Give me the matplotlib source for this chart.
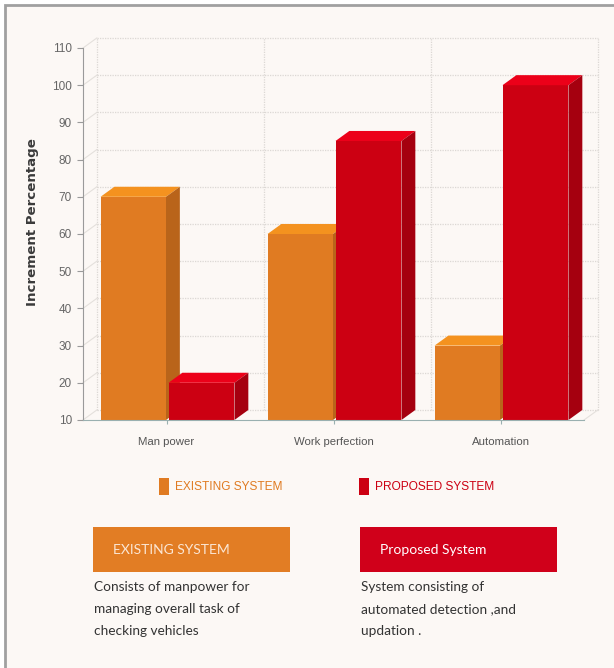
import matplotlib
matplotlib.use("Agg")
import matplotlib.pyplot as plt
from matplotlib.patches import Polygon, Rectangle
from matplotlib import font_manager

# ---- data ----
categories = ["Man power", "Work perfection", "Automation"]
existing = [70, 60, 30]
proposed = [20, 85, 100]
series_names = ["EXISTING SYSTEM", "PROPOSED SYSTEM"]
yticks = list(range(10, 111, 10))
box_titles = ["EXISTING SYSTEM", "Proposed System"]
box_texts = ["Consists of manpower for\nmanaging overall task of\nchecking vehicles",
             "System consisting of\nautomated detection ,and\nupdation ."]

names = {f.name for f in font_manager.fontManager.ttflist}
NARROW = "Liberation Sans Narrow" if "Liberation Sans Narrow" in names else "Liberation Sans"
BODY = "Lato" if "Lato" in names else "Liberation Sans"

W, H = 614, 668
fig = plt.figure(figsize=(W / 100, H / 100), dpi=100, facecolor="white")

def fx(px):
    return px / W

def fy(py):
    return 1 - py / H

# page background with grey frame
bg = Rectangle((fx(5), fy(700)), fx(640) - fx(5), fy(5) - fy(700),
               transform=fig.transFigure, facecolor="#fcf8f5",
               edgecolor="#a0a0a0", linewidth=2, zorder=-10)
fig.patches.append(bg)

ax = fig.add_axes([fx(83), fy(420), fx(584) - fx(83), fy(48) - fy(420)])
ax.set_zorder(5)
ax.set_facecolor("none")
ax.set_xlim(-0.5, 2.5)
ax.set_ylim(10, 110)

dx, dy = 0.083, 2.7  # depth of 3D effect (data units)

# back plane grid
grid_kw = dict(color="#dcd8d4", lw=0.9, ls=(0, (1, 1)), zorder=1, clip_on=False)
for v in yticks:
    ax.plot([-0.5 + dx, 2.5 + dx], [v + dy, v + dy], **grid_kw)
    ax.plot([-0.5, -0.5 + dx], [v, v + dy], color="#e4e0dc", lw=0.8, zorder=1, clip_on=False)
for xv in [-0.5, 0.5, 1.5, 2.5]:
    ax.plot([xv + dx, xv + dx], [10 + dy, 110 + dy], **grid_kw)
ax.plot([2.5, 2.5 + dx], [10, 10 + dy], color="#e4e0dc", lw=0.8, zorder=1, clip_on=False)

def bar3d(x0, x1, h, front, top, side):
    base = 10
    ax.add_patch(Polygon([(x0, base), (x1, base), (x1, h), (x0, h)], closed=True,
                         facecolor=front, edgecolor="none", zorder=3, clip_on=False))
    ax.add_patch(Polygon([(x0, h), (x1, h), (x1 + dx, h + dy), (x0 + dx, h + dy)], closed=True,
                         facecolor=top, edgecolor="none", zorder=3, clip_on=False))
    ax.add_patch(Polygon([(x1, base), (x1 + dx, base + dy), (x1 + dx, h + dy), (x1, h)], closed=True,
                         facecolor=side, edgecolor="none", zorder=3, clip_on=False))

ORANGE = ("#e07b22", "#f4921f", "#b9641a")
RED = ("#cc0012", "#ec0019", "#a5000f")
for i in range(len(categories)):
    bar3d(i - 0.395, i - 0.003, existing[i], *ORANGE)
    bar3d(i + 0.012, i + 0.407, proposed[i], *RED)

# axes styling
for s in ["top", "right"]:
    ax.spines[s].set_visible(False)
ax.spines["left"].set_color("#9a9a9a")
ax.spines["bottom"].set_color("#9ab0b0")
ax.spines["left"].set_zorder(4)
ax.spines["bottom"].set_zorder(4)
ax.set_yticks(yticks)
ax.set_yticklabels([str(v) for v in yticks], family=NARROW, fontsize=8.5, color="#666666")
ax.tick_params(axis="y", length=4, width=0.8, color="#9a9a9a", pad=4)
ax.set_xticks(range(len(categories)))
ax.set_xticklabels(categories, family=NARROW, fontsize=8.2, color="#555555")
ax.tick_params(axis="x", length=3, width=0.8, color="#9ab0b0", pad=9)

fig.text(fx(33), fy(222), "Increment Percentage", rotation=90, ha="center", va="center",
         family="DejaVu Sans", fontweight="bold", fontsize=9.6, color="#3a3a3a")

# legend
leg_cols = [ORANGE[0], RED[0]]
leg_sq = [159, 359]
for name, col, x in zip(series_names, leg_cols, leg_sq):
    fig.patches.append(Rectangle((fx(x), fy(495)), fx(10), fy(478) - fy(495),
                                 transform=fig.transFigure, facecolor=col, edgecolor="none"))
    fig.text(fx(x + 16), fy(487), name, ha="left", va="center", family=NARROW,
             fontsize=8.6, color=col)

# description boxes
box_x = [93, 360]
box_cols = ["#e27d24", "#d0001a"]
title_cols = ["#fbe6d4", "#ffffff"]
for x, col, tcol, title, body in zip(box_x, box_cols, title_cols, box_titles, box_texts):
    fig.patches.append(Rectangle((fx(x), fy(572)), fx(197), fy(527) - fy(572),
                                 transform=fig.transFigure, facecolor=col, edgecolor="none"))
    fig.text(fx(x + 20), fy(550), title, ha="left", va="center", family=BODY,
             fontsize=10, color=tcol)
    fig.text(fx(x + 1), fy(581), body, ha="left", va="top", family=BODY,
             fontsize=9.8, color="#333333", linespacing=2.0)

fig.savefig("out.png", dpi=100, facecolor="white")
